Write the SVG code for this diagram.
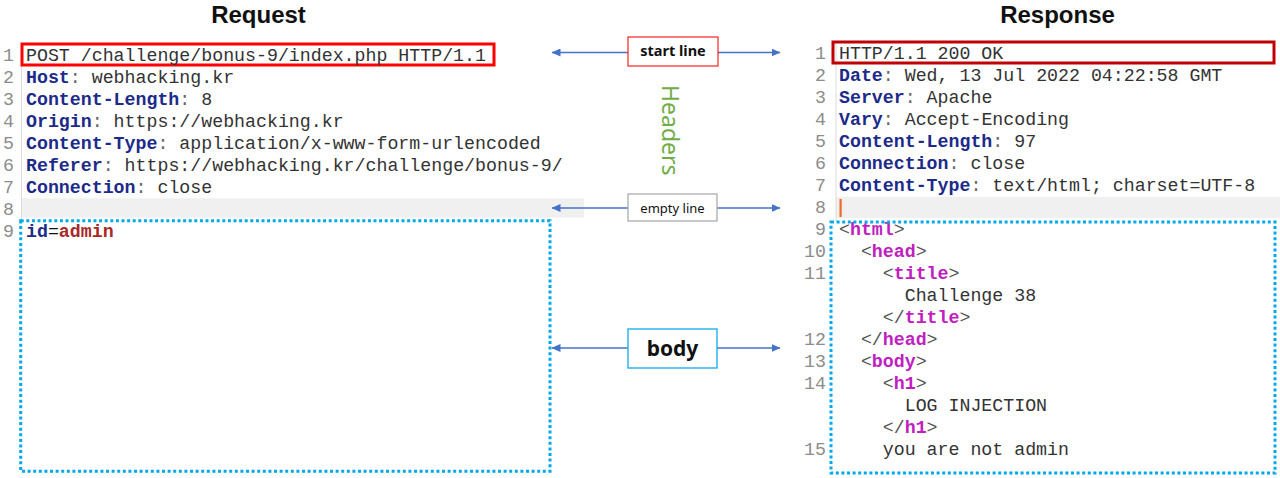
<svg xmlns="http://www.w3.org/2000/svg" width="1280" height="478" viewBox="0 0 1280 478">
<style>
.title{font-family:"Liberation Sans","Noto Sans",sans-serif;font-weight:bold;font-size:24px;fill:#111;text-anchor:middle}
.code{font-family:"Liberation Mono","DejaVu Sans Mono",monospace;font-size:18.25px;fill:#333}
.ln{font-family:"Liberation Mono","DejaVu Sans Mono",monospace;font-size:18.25px;fill:#8c8c8c}
.lnr{text-anchor:end}
.hn{fill:#1c2a8a;font-weight:bold}
.col{fill:#666}
.tag{fill:#c020c0;font-weight:bold}
.br{fill:#555}
.red{fill:#a82828;font-weight:bold}
.lbl{font-family:"Noto Sans","Liberation Sans",sans-serif;fill:#111;text-anchor:middle}
.conn{stroke:#4472c4;stroke-width:1.3;fill:none;marker-end:url(#ah)}
.dotbox{fill:none;stroke:#00a8ec;stroke-width:3;stroke-dasharray:3 2.6}
</style>
<defs>
<marker id="ah" markerWidth="9" markerHeight="8" refX="8.5" refY="4" orient="auto" markerUnits="userSpaceOnUse">
<path d="M0,0 L9,4 L0,8 z" fill="#4472c4"/>
</marker>
</defs>
<rect width="1280" height="478" fill="#fff"/>

<text class="title" x="258.5" y="22.5">Request</text>
<text class="title" x="1057.5" y="22.5">Response</text>

<g id="request">
<rect x="22" y="198.3" width="562" height="19.4" fill="#f0f0f0"/>
<line x1="21.5" y1="44" x2="21.5" y2="220" stroke="#dcdcdc" stroke-width="1"/>
<rect x="22" y="44" width="472" height="21" fill="none" stroke="#ff0000" stroke-width="3"/>
<g class="ln">
<text x="3" y="61">1</text>
<text x="3" y="82.95">2</text>
<text x="3" y="104.9">3</text>
<text x="3" y="126.85">4</text>
<text x="3" y="148.8">5</text>
<text x="3" y="170.75">6</text>
<text x="3" y="192.7">7</text>
<text x="3" y="214.65">8</text>
<text x="3" y="236.6">9</text>
</g>
<g class="code" xml:space="preserve">
<text x="26" y="61">POST /challenge/bonus-9/index.php HTTP/1.1</text>
<text x="26" y="82.95"><tspan class="hn">Host</tspan><tspan class="col">:</tspan> webhacking.kr</text>
<text x="26" y="104.9"><tspan class="hn">Content-Length</tspan><tspan class="col">:</tspan> 8</text>
<text x="26" y="126.85"><tspan class="hn">Origin</tspan><tspan class="col">:</tspan> https://webhacking.kr</text>
<text x="26" y="148.8"><tspan class="hn">Content-Type</tspan><tspan class="col">:</tspan> application/x-www-form-urlencoded</text>
<text x="26" y="170.75"><tspan class="hn">Referer</tspan><tspan class="col">:</tspan> https://webhacking.kr/challenge/bonus-9/</text>
<text x="26" y="192.7"><tspan class="hn">Connection</tspan><tspan class="col">:</tspan> close</text>
<text x="26" y="236.6"><tspan class="hn">id</tspan><tspan fill="#111">=</tspan><tspan class="red">admin</tspan></text>
</g>
<rect class="dotbox" x="20.7" y="220.7" width="529.3" height="250.5"/>
</g>

<g id="response">
<rect x="836" y="197" width="444" height="21" fill="#f0f0f0"/>
<line x1="836" y1="42" x2="836" y2="222" stroke="#dcdcdc" stroke-width="1"/>
<rect x="833" y="42" width="441" height="21" fill="none" stroke="#c00000" stroke-width="3"/>
<rect x="839.5" y="199" width="2.2" height="18" fill="#f06a2a"/>
<g class="ln lnr">
<text x="826" y="59.3">1</text>
<text x="826" y="81.3">2</text>
<text x="826" y="103.3">3</text>
<text x="826" y="125.3">4</text>
<text x="826" y="147.3">5</text>
<text x="826" y="169.3">6</text>
<text x="826" y="191.3">7</text>
<text x="826" y="213.3">8</text>
<text x="826" y="235.3">9</text>
<text x="826" y="257.3">10</text>
<text x="826" y="279.3">11</text>
<text x="826" y="345.3">12</text>
<text x="826" y="367.3">13</text>
<text x="826" y="389.3">14</text>
<text x="826" y="455.3">15</text>
</g>
<g class="code" xml:space="preserve">
<text x="839" y="59.3">HTTP/1.1 200 OK</text>
<text x="839" y="81.3"><tspan class="hn">Date</tspan><tspan class="col">:</tspan> Wed, 13 Jul 2022 04:22:58 GMT</text>
<text x="839" y="103.3"><tspan class="hn">Server</tspan><tspan class="col">:</tspan> Apache</text>
<text x="839" y="125.3"><tspan class="hn">Vary</tspan><tspan class="col">:</tspan> Accept-Encoding</text>
<text x="839" y="147.3"><tspan class="hn">Content-Length</tspan><tspan class="col">:</tspan> 97</text>
<text x="839" y="169.3"><tspan class="hn">Connection</tspan><tspan class="col">:</tspan> close</text>
<text x="839" y="191.3"><tspan class="hn">Content-Type</tspan><tspan class="col">:</tspan> text/html; charset=UTF-8</text>
<text x="839" y="235.3"><tspan class="br">&lt;</tspan><tspan class="tag">html</tspan><tspan class="br">&gt;</tspan></text>
<text x="860.9" y="257.3"><tspan class="br">&lt;</tspan><tspan class="tag">head</tspan><tspan class="br">&gt;</tspan></text>
<text x="882.8" y="279.3"><tspan class="br">&lt;</tspan><tspan class="tag">title</tspan><tspan class="br">&gt;</tspan></text>
<text x="904.7" y="301.3">Challenge 38</text>
<text x="882.8" y="323.3"><tspan class="br">&lt;/</tspan><tspan class="tag">title</tspan><tspan class="br">&gt;</tspan></text>
<text x="860.9" y="345.3"><tspan class="br">&lt;/</tspan><tspan class="tag">head</tspan><tspan class="br">&gt;</tspan></text>
<text x="860.9" y="367.3"><tspan class="br">&lt;</tspan><tspan class="tag">body</tspan><tspan class="br">&gt;</tspan></text>
<text x="882.8" y="389.3"><tspan class="br">&lt;</tspan><tspan class="tag">h1</tspan><tspan class="br">&gt;</tspan></text>
<text x="904.7" y="411.3">LOG INJECTION</text>
<text x="882.8" y="433.3"><tspan class="br">&lt;/</tspan><tspan class="tag">h1</tspan><tspan class="br">&gt;</tspan></text>
<text x="882.8" y="455.3">you are not admin</text>
</g>
<rect class="dotbox" x="831" y="222" width="444" height="251"/>
</g>

<g id="connectors">
<line class="conn" x1="628" y1="52.5" x2="552" y2="52.5"/>
<line class="conn" x1="718" y1="52.5" x2="780" y2="52.5"/>
<line class="conn" x1="628" y1="208" x2="552" y2="208"/>
<line class="conn" x1="717" y1="208" x2="780" y2="208"/>
<line class="conn" x1="628" y1="348" x2="552" y2="348"/>
<line class="conn" x1="717" y1="348" x2="780" y2="348"/>
</g>

<g id="start-line">
<rect x="628" y="37" width="90" height="29" fill="#fff" stroke="#ff2020" stroke-width="1.2"/>
<text class="lbl" x="673" y="56" font-size="14.5" font-weight="bold">start line</text>
</g>

<g id="headers">
<text x="662" y="85" font-family="Noto Sans, Liberation Sans, sans-serif" font-size="23" fill="#70ad47" transform="rotate(90 662 85)">Headers</text>
</g>

<g id="empty-line">
<rect x="628" y="194" width="89" height="27" fill="#fff" stroke="#a6a6a6" stroke-width="1.2"/>
<text class="lbl" x="672.5" y="212.5" font-size="13">empty line</text>
</g>

<g id="body">
<rect x="628" y="329" width="89" height="39" fill="#fff" stroke="#20b0f0" stroke-width="1.4"/>
<text class="lbl" x="672.5" y="356" font-size="21" font-weight="bold">body</text>
</g>
</svg>
